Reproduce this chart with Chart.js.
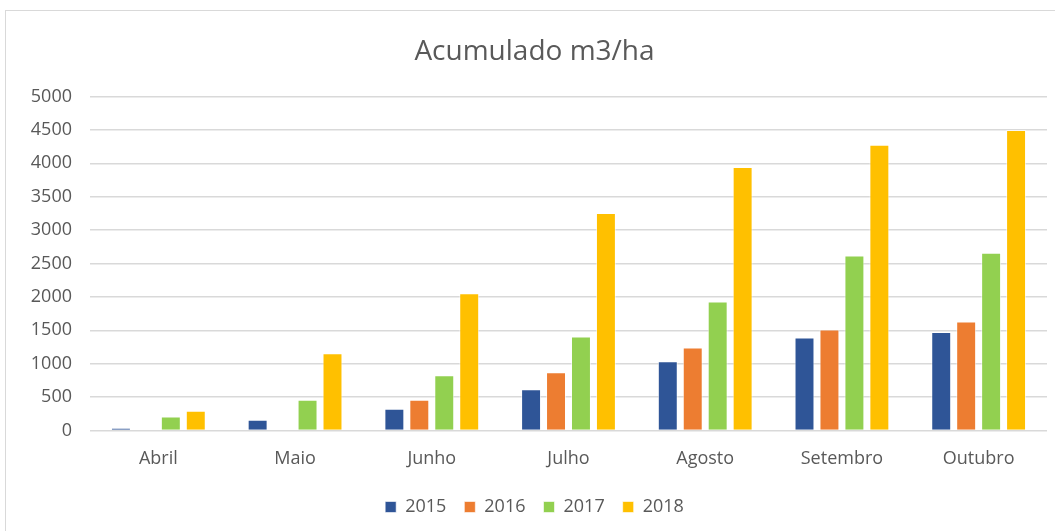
<!DOCTYPE html>
<html>
<head>
<meta charset="utf-8">
<script src="https://cdn.jsdelivr.net/npm/chart.js@4"></script>
<style>
  body { margin: 0; background: #fff; overflow: hidden; }
  .frame { position: absolute; left: 5px; top: 10px; width: 1060px; height: 530px; border: 1px solid #d9d9d9; }
  canvas { position: absolute; left: 0; top: 0; }
</style>
</head>
<body>
<div class="frame"></div>
<canvas id="chart" width="1055" height="531"></canvas>
<script>
const months = ["Abril", "Maio", "Junho", "Julho", "Agosto", "Setembro", "Outubro"];
const v2015 = [40, 160, 325, 615, 1035, 1390, 1475];
const v2016 = [0, 0, 460, 870, 1240, 1510, 1630];
const v2017 = [210, 460, 825, 1405, 1930, 2620, 2660];
const v2018 = [295, 1155, 2055, 3255, 3945, 4280, 4500];

const grey = "#595959";
const font = "'Open Sans', sans-serif";

const ds = (label, data, color) => ({
  label,
  data,
  backgroundColor: color,
  borderColor: "rgba(255,255,255,0.6)",
  borderWidth: 1,
  categoryPercentage: 0.73,
  barPercentage: 0.8,
});

new Chart(document.getElementById("chart"), {
  type: "bar",
  data: {
    labels: months,
    datasets: [
      ds("2015", v2015, "#2F5597"),
      ds("2016", v2016, "#ED7D31"),
      ds("2017", v2017, "#92D050"),
      ds("2018", v2018, "#FFC000"),
    ],
  },
  options: {
    responsive: false,
    animation: false,
    layout: { padding: { left: 22, right: 8, top: 35, bottom: 5 } },
    plugins: {
      title: {
        display: true,
        text: "Acumulado m3/ha",
        color: grey,
        font: { family: font, size: 28, weight: "normal" },
        padding: { top: 0, bottom: 28 },
      },
      legend: {
        position: "bottom",
        labels: {
          color: grey,
          font: { family: font, size: 18 },
          boxWidth: 11,
          boxHeight: 11,
          padding: 18,
        },
      },
      tooltip: { enabled: false },
    },
    scales: {
      x: {
        grid: { display: false },
        border: { display: false },
        ticks: { color: grey, font: { family: font, size: 18 }, padding: 10 },
      },
      y: {
        min: 0,
        max: 5000,
        afterFit: (s) => { s.width = 68; },
        grid: { color: "#d9d9d9", lineWidth: 1.5, drawTicks: false },
        border: { display: false },
        ticks: {
          stepSize: 500,
          color: grey,
          font: { family: font, size: 18 },
          padding: 18,
          callback: (v) => String(v),
        },
      },
    },
  },
});
</script>
</body>
</html>
